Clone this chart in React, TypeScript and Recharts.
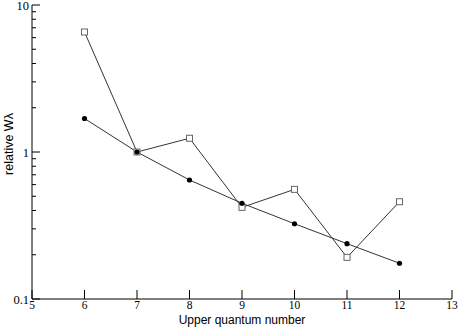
import React from 'react';
import { LineChart, Line, XAxis, YAxis } from 'recharts';

// upper quantum number vs relative W-lambda
const quantumNumbers = [6, 7, 8, 9, 10, 11, 12];
const squareValues = [6.55, 1.0, 1.24, 0.42, 0.557, 0.192, 0.459];
const circleValues = [1.69, 1.0, 0.645, 0.448, 0.325, 0.238, 0.175];

const xTicks = [5, 6, 7, 8, 9, 10, 11, 12, 13];
const yMajorTicks = [0.1, 1, 10];
const yMinorTicks = [0.2, 0.3, 0.4, 0.5, 0.6, 0.7, 0.8, 0.9, 2, 3, 4, 5, 6, 7, 8, 9];
const yAllTicks = [...yMajorTicks, ...yMinorTicks].sort((a, b) => a - b);

const data = quantumNumbers.map((n, i) => ({
  n,
  squares: squareValues[i],
  circles: circleValues[i],
}));

const SERIF = 'Liberation Serif, Times New Roman, Times, serif';
const SANS = 'Liberation Sans, Arial, Helvetica, sans-serif';
const AXIS = '#000';

const X_MARGIN = 2;
const Y_MARGIN = 3;

const BottomTick = (props: any) => {
  const { x, y, payload } = props;
  const edge = y - X_MARGIN;
  return (
    <g>
      <line x1={x} x2={x} y1={edge} y2={edge - 9} stroke={AXIS} />
      <text
        x={x}
        y={y}
        dy="0.71em"
        textAnchor="middle"
        fontFamily={SERIF}
        fontSize={11.5}
        style={{ fontFamily: SERIF, fontSize: 11.5 }}
        fill="#000"
      >
        {payload.value}
      </text>
    </g>
  );
};

const TopTick = (props: any) => {
  const { x, y } = props;
  return <line x1={x} x2={x} y1={y} y2={y + 9} stroke={AXIS} />;
};

const LeftTick = (props: any) => {
  const { x, y, payload } = props;
  const major = yMajorTicks.includes(payload.value);
  const edge = x + Y_MARGIN;
  return (
    <g>
      <line x1={edge} x2={edge + (major ? 8 : 4)} y1={y} y2={y} stroke={AXIS} />
      {major && (
        <text
          x={x}
          y={y}
          dy="0.38em"
          textAnchor="end"
          fontFamily={SERIF}
          fontSize={12.5}
          style={{ fontFamily: SERIF, fontSize: 12.5 }}
          fill="#000"
        >
          {String(payload.value)}
        </text>
      )}
    </g>
  );
};

const RightTick = (props: any) => {
  const { x, y, payload } = props;
  const major = yMajorTicks.includes(payload.value);
  return <line x1={x} x2={x - (major ? 8 : 4)} y1={y} y2={y} stroke={AXIS} />;
};

const SquareDot = (props: any) => {
  const { cx, cy, index } = props;
  if (cx == null || cy == null) return null;
  return (
    <rect key={`sq-${index}`} x={cx - 3} y={cy - 3} width={6} height={6} fill="#fff" stroke="#666" strokeWidth={1} />
  );
};

const CircleDot = (props: any) => {
  const { cx, cy, index } = props;
  if (cx == null || cy == null) return null;
  return <circle key={`ci-${index}`} cx={cx} cy={cy} r={2.6} fill="#000" />;
};

export default function App() {
  return (
    <div style={{ width: 458, height: 328 }}>
      <style>{'body{margin:0}'}</style>
      <LineChart width={458} height={328} data={data} margin={{ top: 5, right: 6, bottom: 0, left: 0 }}>
        <XAxis
          xAxisId="bottom"
          dataKey="n"
          type="number"
          domain={[5, 13]}
          ticks={xTicks}
          interval={0}
          height={29}
          tickSize={0}
          tickMargin={X_MARGIN}
          tickLine={false}
          axisLine={{ stroke: AXIS }}
          tick={<BottomTick />}
          label={{
            content: ({ viewBox }: any) => (
              <text
                x={viewBox.x + viewBox.width / 2}
                y={324}
                textAnchor="middle"
                fontFamily={SANS}
                fontSize={12}
                style={{ fontFamily: SANS, fontSize: 12 }}
                fill="#000"
              >
                Upper quantum number
              </text>
            ),
          }}
        />
        <XAxis
          xAxisId="top"
          orientation="top"
          dataKey="n"
          type="number"
          domain={[5, 13]}
          ticks={xTicks}
          interval={0}
          height={0}
          tickSize={0}
          tickMargin={0}
          tickLine={false}
          axisLine={{ stroke: AXIS }}
          tick={<TopTick />}
        />
        <YAxis
          yAxisId="left"
          scale="log"
          type="number"
          domain={[0.1, 10]}
          allowDataOverflow
          ticks={yAllTicks}
          interval={0}
          width={32}
          tickSize={0}
          tickMargin={Y_MARGIN}
          tickLine={false}
          axisLine={{ stroke: AXIS }}
          tick={<LeftTick />}
          label={{
            content: () => {
              const lx = 13;
              const ly = 144;
              return (
                <text
                  x={lx}
                  y={ly}
                  transform={`rotate(-90 ${lx} ${ly})`}
                  textAnchor="middle"
                  fontFamily={SANS}
                  fontSize={12.5}
                  style={{ fontFamily: SANS, fontSize: 12.5 }}
                  fill="#000"
                >
                  relative Wλ
                </text>
              );
            },
          }}
        />
        <YAxis
          yAxisId="right"
          orientation="right"
          scale="log"
          type="number"
          domain={[0.1, 10]}
          allowDataOverflow
          ticks={yAllTicks}
          interval={0}
          width={0}
          tickSize={0}
          tickMargin={0}
          tickLine={false}
          axisLine={{ stroke: AXIS }}
          tick={<RightTick />}
        />
        <Line
          xAxisId="bottom"
          yAxisId="left"
          dataKey="squares"
          stroke="#333"
          strokeWidth={1}
          dot={<SquareDot />}
          activeDot={false}
          isAnimationActive={false}
        />
        <Line
          xAxisId="bottom"
          yAxisId="left"
          dataKey="circles"
          stroke="#333"
          strokeWidth={1}
          dot={<CircleDot />}
          activeDot={false}
          isAnimationActive={false}
        />
      </LineChart>
    </div>
  );
}
